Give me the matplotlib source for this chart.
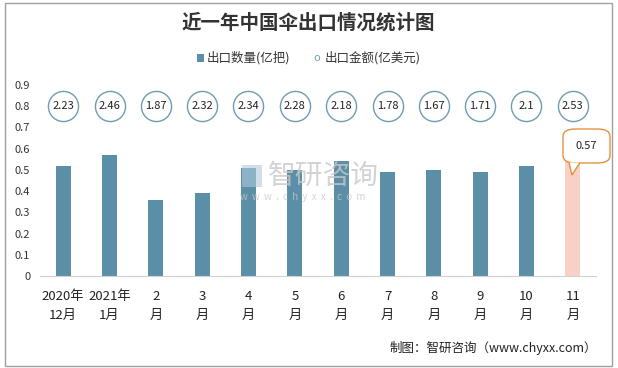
import numpy as np
import matplotlib.pyplot as plt
from matplotlib.patches import FancyBboxPatch, Polygon, Rectangle

plt.rcParams['font.family'] = ['Noto Sans CJK SC', 'DejaVu Sans']

# données
months = ['2020年\n12月', '2021年\n1月', '2\n月', '3\n月', '4\n月', '5\n月',
          '6\n月', '7\n月', '8\n月', '9\n月', '10\n月', '11\n月']
qty = [0.52, 0.57, 0.36, 0.39, 0.51, 0.50, 0.54, 0.49, 0.50, 0.49, 0.52, 0.57]
amount = [2.23, 2.46, 1.87, 2.32, 2.34, 2.28, 2.18, 1.78, 1.67, 1.71, 2.1, 2.53]
yticks = [0, 0.1, 0.2, 0.3, 0.4, 0.5, 0.6, 0.7, 0.8, 0.9]

bar_col = '#5B8FA8'
last_col = '#F8D0C6'
circ_col = '#6E9CB2'

fig = plt.figure(figsize=(6.18, 3.68), dpi=100)
ax = fig.add_axes([40/618, 1 - 276/368, 556/618, (276 - 85)/368])

x = np.arange(len(months))
colors = [bar_col] * (len(months) - 1) + [last_col]
ax.bar(x, qty, width=0.32, color=colors, zorder=2)

# cercles du montant, posés à 0.8
ax.scatter(x, [0.8] * len(x), s=470, facecolor='white', edgecolor=circ_col,
           linewidth=1.0, zorder=3)
for xi, v in zip(x, amount):
    ax.text(xi, 0.8, str(v), ha='center', va='center', fontsize=8,
            color='#222222', zorder=4)

ax.set_xlim(-0.5, len(x) - 0.5)
ax.set_ylim(0, 0.9)
ax.set_yticks(yticks)
ax.set_yticklabels([('%g' % t) for t in yticks], fontsize=8, color='#333333')
ax.set_xticks(x)
ax.set_xticklabels(months, fontsize=9.5, color='#222222', linespacing=1.65)
ax.tick_params(axis='both', length=0)
ax.tick_params(axis='x', pad=10)
ax.tick_params(axis='y', pad=7)
for s in ['top', 'right', 'left']:
    ax.spines[s].set_visible(False)
ax.spines['bottom'].set_color('#D0D0D0')

# bulle pour la dernière barre
bx0, by0, bw, bh = 563, 368 - 163, 47, 34
box = FancyBboxPatch((bx0 / 618, by0 / 368), bw / 618, bh / 368,
                     boxstyle='round,pad=0,rounding_size=0.02',
                     transform=fig.transFigure, facecolor='white',
                     edgecolor='#E3923A', linewidth=1.0, zorder=5)
fig.patches.append(box)
tri = Polygon([(569 / 618, (368 - 162.5) / 368), (572 / 618, (368 - 175) / 368),
               (580 / 618, (368 - 162.5) / 368)], closed=False,
              transform=fig.transFigure, facecolor='white',
              edgecolor='#E3923A', linewidth=1.0, zorder=6)
fig.patches.append(tri)
fig.text(586.5 / 618, 1 - 146 / 368, '0.57', ha='center', va='center',
         fontsize=8, color='#222222', zorder=7)

# filigrane
fig.text(268 / 618, 1 - 176 / 368, '智研咨询', fontsize=20, color='#C8C8C8',
         alpha=0.8, ha='left', va='center', zorder=10)
fig.text(240 / 618, 1 - 197 / 368, 'w  w  w  .  c  h  y  x  x  .  c  o  m',
         fontsize=7, color='#C8C8C8', alpha=0.8, ha='left', va='center',
         zorder=10)
fig.patches.append(Rectangle((242 / 618, 1 - 187 / 368), 20 / 618, 22 / 368,
                             transform=fig.transFigure, facecolor='#AFC8DC',
                             alpha=0.6, zorder=10))

# titre et légende
fig.text(308 / 618, 1 - 23 / 368, '近一年中国伞出口情况统计图', ha='center',
         va='center', fontsize=14, fontweight='bold', color='#333333')
fig.patches.append(Rectangle((197 / 618, 1 - 62 / 368), 7 / 618, 8 / 368,
                             transform=fig.transFigure, facecolor=bar_col))
fig.text(207 / 618, 1 - 58 / 368, '出口数量(亿把)', ha='left', va='center',
         fontsize=9, color='#333333')
fig.text(313 / 618, 1 - 58 / 368, 'o', ha='left', va='center',
         fontsize=8, color=circ_col)
fig.text(325 / 618, 1 - 58 / 368, '出口金额(亿美元)', ha='left', va='center',
         fontsize=9, color='#333333')

# source
fig.text(597 / 618, 1 - 348 / 368, '制图：智研咨询（www.chyxx.com）', ha='right',
         va='center', fontsize=9, color='#222222')

# cadre
fig.patches.append(Rectangle((5 / 618, 2 / 368), 607 / 618, 363 / 368,
                             transform=fig.transFigure, fill=False,
                             edgecolor='#A0A0A0', linewidth=1.0))

fig.savefig('out.png', dpi=100)
